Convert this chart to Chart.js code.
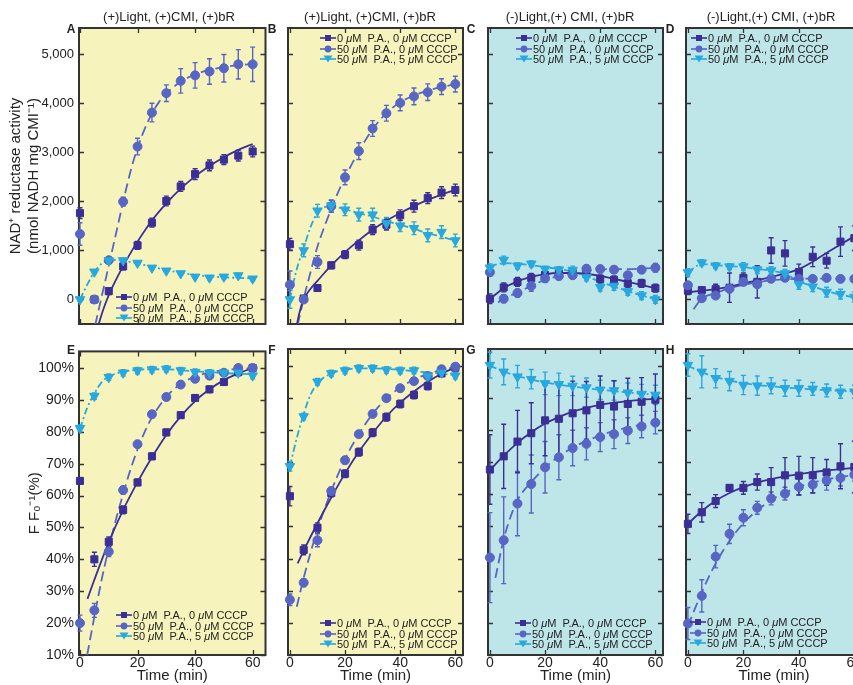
<!DOCTYPE html>
<html>
<head>
<meta charset="utf-8">
<script src="https://cdn.jsdelivr.net/npm/chart.js@4.4.0/dist/chart.umd.min.js"></script>
<style>
body{margin:0;background:#fff;}
#wrap{position:relative;width:853px;height:685px;overflow:hidden;font-family:"Liberation Sans",Arial,sans-serif;color:#222;}
.pc{position:absolute;}
.ttl{position:absolute;width:220px;margin-left:-110px;text-align:center;font-size:13px;line-height:14px;white-space:nowrap;}
.let{position:absolute;font-weight:bold;font-size:12px;line-height:12px;transform:translate(-50%,-50%);}
.leg{position:absolute;font-size:11px;z-index:2;}
.leg div{display:flex;align-items:center;height:10.5px;white-space:pre;}
.leg svg{margin-right:1px;flex:none;}
</style>
</head>
<body>
<div id="wrap"></div>
<script>
// time points (min)
const T = [0, 5, 10, 15, 20, 25, 30, 35, 40, 45, 50, 55, 60];
const topTicks = [0, 1000, 2000, 3000, 4000, 5000];
const pctTicks = [10, 20, 30, 40, 50, 60, 70, 80, 90, 100];
const timeTicks = [0, 20, 40, 60];

// A: (+)Light, NAD+ reductase
const aSq = [1760, 0, 170, 674, 1103, 1565, 2008, 2305, 2556, 2734, 2853, 2933, 3018];
const aSqErr = [110, 40, 70, 70, 80, 90, 100, 100, 110, 110, 100, 110, 110];
const aCi = [1335, 0, 800, 1995, 3118, 3811, 4207, 4458, 4570, 4650, 4716, 4795, 4795];
const aCiErr = [230, 40, 60, 90, 170, 190, 170, 250, 260, 260, 280, 300, 350];
const aTr = [0, 565, 796, 796, 744, 645, 585, 530, 462, 443, 462, 489, 423];
const aTrErr = [40, 40, 40, 40, 30, 30, 30, 30, 30, 40, 40, 40, 40];
const aFit1 = [[6.4,-520],[8,-220],[10,90],[12.5,400],[15,680],[17.5,940],[20,1180],[25,1610],[30,1960],[35,2260],[40,2510],[45,2720],[50,2900],[55,3050],[60,3170]];
const aFit2 = [[5.3,-520],[7.5,50],[10,690],[12.5,1340],[15,1990],[17.5,2600],[20,3090],[22.5,3480],[25,3790],[27.5,4030],[30,4200],[35,4440],[40,4590],[45,4680],[50,4740],[55,4780],[60,4800]];
const aFit3 = [[0,0],[2.5,300],[5,560],[7.5,730],[10,795],[12.5,805],[15,790],[20,735],[25,665],[30,600],[35,545],[40,500],[45,470],[50,450],[55,440],[60,430]];

// B
const bSq = [1127, 20, 234, 697, 915, 1107, 1425, 1526, 1717, 1902, 2067, 2180, 2233];
const bSqErr = [120, 40, 60, 70, 80, 100, 100, 110, 110, 120, 110, 120, 120];
const bCi = [300, 0, 764, 1900, 2490, 3025, 3487, 3798, 4009, 4141, 4227, 4340, 4392];
const bCiErr = [280, 40, 130, 120, 150, 170, 160, 160, 160, 170, 170, 160, 160];
const bTr = [0, 1000, 1810, 1915, 1830, 1730, 1730, 1552, 1506, 1453, 1308, 1374, 1202];
const bTrErr = [180, 130, 130, 120, 120, 130, 130, 120, 120, 130, 130, 130, 130];
const bFit1 = [[2.5,-520],[3.5,-260],[5,0],[7.5,220],[10,380],[12.5,540],[15,694],[20,965],[25,1205],[30,1420],[35,1605],[40,1765],[45,1905],[50,2030],[55,2140],[60,2235]];
const bFit2 = [[2.8,-520],[5,20],[7.5,560],[10,1080],[12.5,1480],[15,1850],[17.5,2190],[20,2490],[25,3020],[30,3470],[35,3800],[40,4020],[45,4160],[50,4260],[55,4330],[60,4390]];
const bFit3 = [[0,0],[1.5,400],[3,720],[5,1050],[7.5,1480],[10,1770],[12.5,1880],[15,1900],[20,1840],[25,1760],[30,1690],[35,1600],[40,1520],[45,1440],[50,1350],[55,1280],[60,1200]];

// C
const cSq = [15, 245, 357, 440, 500, 530, 545, 520, 420, 400, 330, 330, 230];
const cSqErr = [100, 90, 90, 90, 80, 80, 80, 80, 80, 80, 80, 80, 80];
const cCi = [555, 15, 132, 277, 430, 476, 495, 627, 620, 607, 495, 607, 647];
const cCiErr = [70, 80, 80, 110, 80, 70, 70, 70, 70, 70, 70, 70, 90];
const cTr = [647, 805, 687, 727, 620, 607, 600, 450, 251, 277, 165, 80, 0];
const cTrErr = [80, 80, 60, 60, 60, 60, 80, 70, 80, 90, 80, 80, 80];
const cFit1 = [[0,10],[5,230],[10,370],[15,460],[20,515],[25,540],[30,540],[35,520],[40,480],[45,420],[50,360],[55,300],[60,230]];
const cFit2 = [[3,-60],[5,20],[10,140],[15,280],[20,400],[25,480],[30,530],[35,580],[40,610],[45,620],[50,620],[55,630],[60,645]];
const cFit3 = [[0,680],[5,740],[10,730],[15,700],[20,660],[25,620],[30,570],[35,480],[40,360],[45,260],[50,170],[55,80],[60,10]];

// D
const dSq = [178, 190, 210, 240, 440, 360, 1000, 940, 560, 870, 790, 1180, 1250];
const dSqErr = [80, 60, 100, 300, 100, 330, 260, 260, 160, 200, 150, 300, 250];
const dCi = [290, 26, 79, 220, 357, 310, 423, 443, 420, 420, 440, 420, 420];
const dCiErr = [60, 60, 60, 80, 60, 60, 60, 60, 60, 60, 60, 60, 60];
const dTr = [550, 750, 690, 670, 670, 610, 590, 530, 310, 260, 150, 110, 50];
const dTrErr = [80, 60, 60, 60, 80, 80, 80, 80, 100, 100, 100, 100, 100];
const dFit1 = [[0,150],[5,175],[10,210],[15,260],[20,330],[25,390],[30,460],[35,530],[40,620],[45,770],[50,950],[55,1120],[60,1290]];
const dFit2 = [[2,-200],[5,20],[10,130],[15,230],[20,300],[25,350],[30,390],[35,410],[40,420],[45,425],[50,425],[55,425],[60,425]];
const dFit3 = [[0,560],[5,720],[10,700],[15,680],[20,660],[25,620],[30,590],[35,520],[40,370],[45,270],[50,170],[55,100],[60,40]];

// E: F/F0 (%)
const eSq = [64.6, 40.0, 45.5, 55.5, 64.1, 72.3, 79.8, 85.2, 90.6, 93.3, 95.6, 98.7, 100];
const eSqErr = [1, 2.2, 1.5, 1.2, 1, 1, 1, 1, 1, 1, 1, 1, 1];
const eCi = [20, 24, 42.4, 61.7, 76.1, 85.5, 90.9, 94.8, 96.6, 97.6, 98.5, 100, 100];
const eCiErr = [2.5, 2.2, 1.5, 1.2, 1, 1, 1, 1, 1, 1, 1, 1, 1];
const eTr = [81.1, 91.2, 97.1, 98.5, 99.2, 99.5, 99.7, 99.2, 98.7, 98.5, 98.5, 98.5, 97.6];
const eTrErr = [1, 1, 1, 1, 1, 1, 1, 1, 1, 1, 1, 1, 1];
const eFit1 = [[2.6,27.6],[5,33.6],[10,45.4],[15,55.5],[20,64.2],[25,72],[30,79],[35,84.8],[40,89.6],[45,93.3],[50,96.2],[55,98.3],[60,100]];
const eFit2 = [[2.5,10],[5,22],[7.5,33.5],[10,43.5],[12.5,52.5],[15,60.5],[17.5,68],[20,74.5],[22.5,80],[25,84.5],[27.5,88],[30,91],[35,95],[40,97.3],[45,98.6],[50,99.3],[55,99.7],[60,100]];
const eFit3 = [[0,81],[2.5,87.5],[5,92],[7.5,95.5],[10,97.3],[15,98.8],[20,99.4],[25,99.6],[30,99.6],[35,99.3],[40,99],[45,98.7],[50,98.4],[55,98.2],[60,98]];

// F
const fSq = [59.4, 42.7, 49.6, 60.4, 66.4, 73.1, 79.2, 84.0, 88.1, 90.9, 93.7, 97.6, 99.4];
const fSqErr = [3, 1.5, 1.5, 1.2, 1.2, 1.2, 1.2, 1.2, 1.2, 1.2, 1.2, 1, 1];
const fCi = [27.2, 32.5, 45.7, 61.0, 70.6, 78.7, 85.0, 89.9, 93.0, 95.2, 96.8, 98.9, 99.7];
const fCiErr = [1.8, 1.2, 2, 1.2, 1, 1, 1, 1, 1, 1, 1, 1, 1];
const fTr = [68.7, 84.2, 95.0, 97.6, 98.5, 99.2, 99.2, 98.7, 98.5, 98.5, 96.8, 97.8, 96.9];
const fTrErr = [1.5, 1, 1, 1, 1, 1, 1, 1, 1, 1, 1, 1, 1];
const fFit1 = [[2.8,38.5],[5,42.5],[10,51],[15,59],[20,66.5],[25,73.2],[30,79],[35,84.2],[40,88.5],[45,92],[50,95],[55,97.5],[60,99.5]];
const fFit2 = [[2.5,25],[5,34],[10,49],[15,61],[20,71],[25,78.7],[30,85],[35,89.8],[40,93.2],[45,95.7],[50,97.4],[55,98.7],[60,99.6]];
const fFit3 = [[0,68.7],[2.5,77.5],[5,85],[7.5,91],[10,94.5],[15,97.6],[20,98.7],[25,99.2],[30,99.2],[35,99],[40,98.7],[45,98.3],[50,97.9],[55,97.5],[60,97.1]];

// G
const gSq = [67.7, 71.8, 76.4, 79.0, 83.0, 83.5, 85.2, 86.1, 87.8, 87.3, 88.1, 88.8, 89.4];
const gSqErr = [10.8, 10, 9.7, 9.5, 11, 11, 10, 9, 9, 8, 8, 7.5, 8];
const gCi = [40.3, 45.7, 57.1, 63.2, 68.4, 71.5, 74.4, 75.7, 77.8, 78.7, 79.8, 81.1, 82.3];
const gCiErr = [14, 13.5, 10, 9, 8, 7, 5.5, 5, 4.5, 4.5, 4, 3.5, 3.5];
const gTr = [100.2, 98.1, 96.6, 95.8, 94.5, 94.2, 93.7, 93.2, 92.5, 92.3, 91.6, 91.2, 90.9];
const gTrErr = [4, 4, 3.5, 3, 3.5, 3.5, 3, 3, 3, 3, 3, 3, 3];
const gFit1 = [[0,67.5],[5,72],[10,76],[15,79.3],[20,82],[25,84],[30,85.7],[35,86.9],[40,87.8],[45,88.5],[50,89],[55,89.4],[60,89.7]];
const gFit2 = [[2,34],[5,46],[7.5,53],[10,58.2],[15,63.8],[20,68.3],[25,71.8],[30,74.5],[35,76.6],[40,78.3],[45,79.7],[50,80.8],[55,81.6],[60,82.3]];
const gFit3 = [[0,100],[5,98.2],[10,96.8],[15,95.7],[20,94.8],[25,94.1],[30,93.5],[35,93],[40,92.5],[45,92.1],[50,91.7],[55,91.3],[60,91]];

// H
const hSq = [50.8, 54.4, 57.9, 62.0, 62.0, 63.8, 63.8, 65.9, 65.8, 65.9, 66.8, 68.7, 68.5];
const hSqErr = [3, 3, 2, 1, 2, 2.5, 4.5, 5.5, 6, 5.5, 4, 7, 8];
const hCi = [19.8, 28.4, 40.6, 47.7, 52.7, 55.8, 58.7, 60.2, 62.3, 63.0, 64.3, 65.1, 66.1];
const hCiErr = [5, 5, 3.5, 3, 2.5, 2, 2, 2, 2.5, 2.5, 3, 2.5, 2];
const hTr = [100.2, 98.1, 96.1, 95.2, 94.0, 93.8, 93.8, 93.0, 93.0, 92.8, 92.3, 91.9, 91.9];
const hTrErr = [3.5, 5, 3, 3, 3, 3, 2.5, 2.5, 2.5, 2, 2, 2, 2];
const hFit1 = [[0,50.8],[5,54.8],[10,58],[15,60.4],[20,62.2],[25,63.6],[30,64.7],[35,65.6],[40,66.3],[45,66.9],[50,67.4],[55,67.8],[60,68.2]];
const hFit2 = [[0,19],[5,29.5],[10,38.5],[15,45.5],[20,51],[25,55],[30,58.2],[35,60.5],[40,62.3],[45,63.6],[50,64.6],[55,65.4],[60,66]];
const hFit3 = [[0,100],[5,98],[10,96.5],[15,95.4],[20,94.6],[25,94],[30,93.6],[35,93.2],[40,92.9],[45,92.6],[50,92.4],[55,92.2],[60,92]];

const titles = ['(+)Light, (+)CMI, (+)bR', '(+)Light, (+)CMI, (+)bR', '(-)Light,(+) CMI, (+)bR', '(-)Light,(+) CMI, (+)bR'];
const legendRows = [['0', '0'], ['50', '0'], ['50', '5']];

const C1 = '#3b2f96', C2 = '#5765c5', C3 = '#28a8df';
const YEL = '#f6f4bc', CYA = '#bee6e9';

Chart.defaults.font.family = '"Liberation Sans", Arial, sans-serif';
Chart.defaults.color = '#222';

const wrap = document.getElementById('wrap');

// layout: canvas box, plot frame [l,t,r,b], x range
const panels = [
  {k:'A', x:0,   y:0,   w:272, h:340, fr:[79,28,268,332],  xr:[-0.34,64.46], top:true,  showY:true,  bg:YEL, sq:aSq, sqE:aSqErr, ci:aCi, ciE:aCiErr, tr:aTr, trE:aTrErr, f:[aFit1,aFit2,aFit3], leg:[116,292]},
  {k:'B', x:272, y:0,   w:198, h:340, fr:[280,28,463,332], xr:[-0.69,62.78], top:true,  showY:false, bg:YEL, sq:bSq, sqE:bSqErr, ci:bCi, ciE:bCiErr, tr:bTr, trE:bTrErr, f:[bFit1,bFit2,bFit3], leg:[320,33]},
  {k:'C', x:470, y:0,   w:200, h:340, fr:[479,28,663,332], xr:[-0.69,62.76], top:true,  showY:false, bg:CYA, sq:cSq, sqE:cSqErr, ci:cCi, ciE:cCiErr, tr:cTr, trE:cTrErr, f:[cFit1,cFit2,cFit3], leg:[516,33]},
  {k:'D', x:670, y:0,   w:200, h:340, fr:[678,28,862,332], xr:[-0.69,62.76], top:true,  showY:false, bg:CYA, sq:dSq, sqE:dSqErr, ci:dCi, ciE:dCiErr, tr:dTr, trE:dTrErr, f:[dFit1,dFit2,dFit3], leg:[691,33]},
  {k:'E', x:0,   y:338, w:272, h:347, fr:[79,349,268,655], xr:[-0.34,64.46], top:false, showY:true,  bg:YEL, sq:eSq, sqE:eSqErr, ci:eCi, ciE:eCiErr, tr:eTr, trE:eTrErr, f:[eFit1,eFit2,eFit3], leg:[116,610]},
  {k:'F', x:272, y:338, w:198, h:347, fr:[280,349,463,655], xr:[-0.69,62.78], top:false, showY:false, bg:YEL, sq:fSq, sqE:fSqErr, ci:fCi, ciE:fCiErr, tr:fTr, trE:fTrErr, f:[fFit1,fFit2,fFit3], leg:[320,618]},
  {k:'G', x:470, y:338, w:200, h:347, fr:[479,349,663,655], xr:[-0.69,62.76], top:false, showY:false, bg:CYA, sq:gSq, sqE:gSqErr, ci:gCi, ciE:gCiErr, tr:gTr, trE:gTrErr, f:[gFit1,gFit2,gFit3], leg:[515,618]},
  {k:'H', x:670, y:338, w:200, h:347, fr:[678,349,862,655], xr:[-0.69,62.76], top:false, showY:false, bg:CYA, sq:hSq, sqE:hSqErr, ci:hCi, ciE:hCiErr, tr:hTr, trE:hTrErr, f:[hFit1,hFit2,hFit3], leg:[690,617]}
];

function pointSet(vals, errs, c, style, rot, r, order) {
  return {
    data: T.map((t, i) => ({x: t, y: vals[i], e: errs[i]})),
    pointStyle: style, pointRotation: rot, pointRadius: r,
    pointBackgroundColor: c, pointBorderColor: c, pointBorderWidth: 1,
    borderColor: c, showLine: false, clip: false, order: order
  };
}

function fitSet(pairs, c, dash, order) {
  return {
    data: pairs.map(p => ({x: p[0], y: p[1]})),
    showLine: true, pointRadius: 0, borderColor: c, borderWidth: 1.8, borderDash: dash,
    tension: 0.4, cubicInterpolationMode: 'monotone', fill: false, order: order
  };
}

function makePanel(p) {
  const cv = document.createElement('canvas');
  cv.width = p.w; cv.height = p.h;
  cv.className = 'pc';
  cv.style.left = p.x + 'px'; cv.style.top = p.y + 'px';
  wrap.appendChild(cv);

  const [fl, ft, fr, fb] = p.fr;
  const yTicks = p.top ? topTicks : pctTicks;

  const framePlugin = {
    id: 'frame' + p.k,
    beforeDraw(chart) {
      const ctx = chart.ctx, ca = chart.chartArea;
      ctx.save();
      ctx.fillStyle = p.bg;
      ctx.fillRect(ca.left, ca.top, ca.right - ca.left, ca.bottom - ca.top);
      ctx.restore();
    },
    beforeDatasetsDraw(chart) {
      const ctx = chart.ctx, ca = chart.chartArea, xs = chart.scales.x, ys = chart.scales.y;
      ctx.save();
      ctx.strokeStyle = '#333';
      ctx.lineWidth = 1.3;
      ctx.beginPath();
      yTicks.forEach(v => {
        const y = Math.round(ys.getPixelForValue(v)) + 0.5;
        ctx.moveTo(ca.left, y); ctx.lineTo(ca.left + 5, y);
        ctx.moveTo(ca.right, y); ctx.lineTo(ca.right - 5, y);
      });
      timeTicks.forEach(v => {
        const x = Math.round(xs.getPixelForValue(v)) + 0.5;
        ctx.moveTo(x, ca.top); ctx.lineTo(x, ca.top + 5);
        ctx.moveTo(x, ca.bottom); ctx.lineTo(x, ca.bottom - 5);
      });
      ctx.stroke();
      ctx.lineWidth = 2;
      ctx.strokeRect(ca.left, ca.top, ca.right - ca.left, ca.bottom - ca.top);
      ctx.restore();
    }
  };

  const errPlugin = {
    id: 'err' + p.k,
    beforeDatasetsDraw(chart) {
      const ctx = chart.ctx, ys = chart.scales.y;
      chart.data.datasets.forEach((d, i) => {
        if (d.showLine) return;
        const meta = chart.getDatasetMeta(i);
        ctx.save();
        ctx.strokeStyle = d.pointBorderColor;
        ctx.lineWidth = 1.4;
        ctx.beginPath();
        meta.data.forEach((el, j) => {
          const pt = d.data[j];
          if (pt.y == null || !pt.e) return;
          const y1 = ys.getPixelForValue(pt.y - pt.e), y2 = ys.getPixelForValue(pt.y + pt.e);
          ctx.moveTo(el.x, y1); ctx.lineTo(el.x, y2);
          ctx.moveTo(el.x - 2.5, y1); ctx.lineTo(el.x + 2.5, y1);
          ctx.moveTo(el.x - 2.5, y2); ctx.lineTo(el.x + 2.5, y2);
        });
        ctx.stroke();
        ctx.restore();
      });
    }
  };

  new Chart(cv, {
    type: 'scatter',
    data: {
      datasets: [
        pointSet(p.tr, p.trE, C3, 'triangle', 180, 5.5, 1),
        pointSet(p.ci, p.ciE, C2, 'circle', 0, 4.5, 2),
        pointSet(p.sq, p.sqE, C1, 'rect', 0, 5, 3),
        fitSet(p.f[0], C1, [], 4),
        fitSet(p.f[1], C2, [10, 5], 5),
        fitSet(p.f[2], C3, [7, 3, 2, 3], 6)
      ]
    },
    options: {
      responsive: false,
      animation: false,
      devicePixelRatio: 1,
      events: [],
      layout: {
        padding: {
          left: p.showY ? 0 : fl - p.x,
          top: ft - p.y,
          right: p.x + p.w - fr,
          bottom: p.top ? p.y + p.h - fb : 0
        }
      },
      plugins: {legend: {display: false}, tooltip: {enabled: false}},
      scales: {
        x: {
          type: 'linear', min: p.xr[0], max: p.xr[1],
          display: !p.top,
          afterBuildTicks: s => { s.ticks = timeTicks.map(v => ({value: v})); },
          afterFit: s => { s.height = p.y + p.h - fb; },
          grid: {display: false, drawTicks: false},
          border: {display: false},
          ticks: {padding: 0, font: {size: 14}, color: '#222', maxRotation: 0},
          title: {display: true, text: 'Time (min)', font: {size: 15}, color: '#222', padding: {top: 0, bottom: 0}}
        },
        y: {
          type: 'linear',
          min: p.top ? -500 : 10,
          max: p.top ? 5536 : 105.2,
          display: p.showY,
          afterBuildTicks: s => { s.ticks = yTicks.map(v => ({value: v})); },
          afterFit: s => { s.width = fl - p.x; },
          grid: {display: false, drawTicks: false},
          border: {display: false},
          ticks: {
            padding: 5,
            font: {size: p.top ? 13 : 14},
            color: '#222',
            callback: v => p.top ? v.toLocaleString('en-US') : v + '%'
          },
          title: p.top
            ? {display: true, text: ['NAD\u207A reductase activity', '(nmol NADH mg CMI\u207B\u00B9)'], font: {size: 15}, color: '#222', padding: {top: 7, bottom: 0}}
            : {display: true, text: 'F F\u2080\u207B\u00B9(%)', font: {size: 15}, color: '#222', padding: {top: 26, bottom: 0}}
        }
      }
    },
    plugins: [framePlugin, errPlugin]
  });

  // letter
  const let_ = document.createElement('div');
  let_.className = 'let';
  let_.textContent = p.k;
  let_.style.left = (fl - 8) + 'px';
  let_.style.top = (ft + 1) + 'px';
  wrap.appendChild(let_);

  // legend
  const lg = document.createElement('div');
  lg.className = 'leg';
  lg.style.left = p.leg[0] + 'px';
  lg.style.top = p.leg[1] + 'px';
  const marks = [
    `<rect x="5" y="2" width="6" height="6" fill="${C1}"/>`,
    `<circle cx="8" cy="5" r="3.4" fill="${C2}"/>`,
    `<polygon points="3.5,1.5 12.5,1.5 8,8.5" fill="${C3}"/>`
  ];
  const cols = [C1, C2, C3];
  lg.innerHTML = legendRows.map((r, i) =>
    `<div><svg width="16" height="10"><line x1="0" y1="5" x2="16" y2="5" stroke="${cols[i]}" stroke-width="1.6"/>${marks[i]}</svg>` +
    `<span>${r[0]} <i>\u03BC</i>M  P.A., ${r[1]} <i>\u03BC</i>M CCCP</span></div>`
  ).join('');
  wrap.appendChild(lg);
}

panels.forEach(makePanel);

// column titles over the top row
const titleX = [169, 370, 570, 771];
titles.forEach((t, i) => {
  const d = document.createElement('div');
  d.className = 'ttl';
  d.style.left = titleX[i] + 'px';
  d.style.top = '10px';
  d.textContent = t;
  wrap.appendChild(d);
});
</script>
</body>
</html>
